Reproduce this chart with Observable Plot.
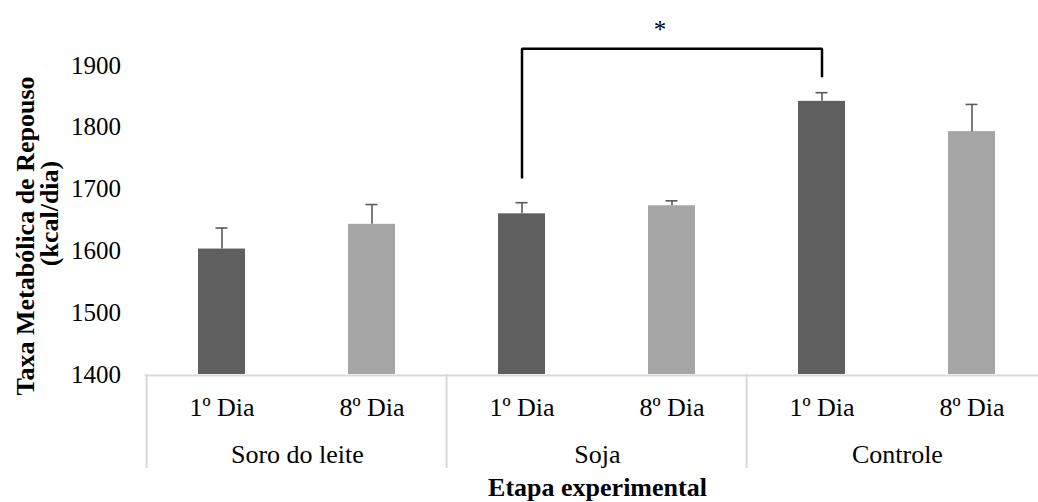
<!DOCTYPE html>
<html>
<head>
<meta charset="utf-8">
<script src="https://cdn.jsdelivr.net/npm/d3@7"></script>
<script src="https://cdn.jsdelivr.net/npm/@observablehq/plot@0.6"></script>
<style>
  html, body { margin: 0; padding: 0; background: #ffffff; }
  #chart svg { display: block; }
</style>
</head>
<body>
<div id="chart"></div>
<script>
// ---- Data ----
const groups = ["Soro do leite", "Soja", "Controle"];
const days = ["1º Dia", "8º Dia"];
const means = [1603, 1643, 1660, 1673, 1842, 1793];   // kcal/dia, order: group × day
const errors = [34, 32, 18, 8, 14, 44];                // upper error bar
const yTicks = [1400, 1500, 1600, 1700, 1800, 1900];
const yTitle = "Taxa Metabólica de Repouso";
const yUnit = "(kcal/dia)";
const xTitle = "Etapa experimental";
// significance bracket: from Soja 1º Dia to Controle 1º Dia
const sigFrom = ["Soja", "1º Dia"];
const sigTo = ["Controle", "1º Dia"];
const sigLevels = [1717, 1927, 1881]; // left leg bottom, bracket top, right leg bottom
const sigLabel = "*";
const sigLabelY = 1957;

// ---- Build table ----
const keyOf = (g, d) => g + " · " + d;
const data = [];
groups.forEach((g, gi) => days.forEach((d, di) => {
  const i = gi * days.length + di;
  data.push({group: g, day: d, key: keyOf(g, d), mean: means[i], err: errors[i]});
}));
const keys = data.map(d => d.key);
const groupFirstKeys = groups.map(g => keyOf(g, days[0]));
const bracket = [
  {key: keyOf(...sigFrom), v: sigLevels[0]},
  {key: keyOf(...sigFrom), v: sigLevels[1]},
  {key: keyOf(...sigTo), v: sigLevels[1]},
  {key: keyOf(...sigTo), v: sigLevels[2]}
];
const midKey = keyOf(sigFrom[0], days[1]);

// ---- Layout / style ----
const W = 1038, H = 502;
const mL = 144.5, mR = -11.5, mT = 65, mB = 128;
const step = (W - mR - mL) / keys.length;
const font = "'Liberation Serif', 'Times New Roman', serif";
const ink = "#000000";
const errColor = "#5a5a5a";
const gridGray = "#d9d9d9";

const chart = Plot.plot({
  width: W,
  height: H,
  marginLeft: mL,
  marginRight: mR,
  marginTop: mT,
  marginBottom: mB,
  style: {fontFamily: font, fontSize: "25px", color: ink, background: "#ffffff"},
  x: {type: "band", domain: keys, range: [mL, W - mR], paddingInner: 0.685, paddingOuter: 0.3425, axis: null},
  y: {domain: [yTicks[0], yTicks[yTicks.length - 1]], axis: null},
  color: {domain: days, range: ["#5f5f5f", "#a5a5a5"]},
  marks: [
    // baseline
    Plot.ruleY([yTicks[0]], {stroke: gridGray, strokeWidth: 2, dy: 1}),
    // category separators below the axis
    Plot.ruleX(groupFirstKeys, {x: d => d, y1: yTicks[0], y2: yTicks[0], insetBottom: -94, dx: -step / 2, stroke: gridGray, strokeWidth: 2}),
    // y axis labels
    Plot.axisY(yTicks, {tickSize: 0, tickPadding: 24, label: null, tickFormat: d => String(d), fontSize: 25, fontFamily: font, fontVariant: "normal", fill: ink}),
    // bars
    Plot.barY(data, {x: "key", y1: yTicks[0], y2: "mean", fill: "day"}),
    // error bars
    Plot.ruleX(data, {x: "key", y1: "mean", y2: d => d.mean + d.err, stroke: errColor, strokeWidth: 1.6}),
    Plot.tickY(data, {x: "key", y: d => d.mean + d.err, insetLeft: 17.5, insetRight: 17.5, stroke: errColor, strokeWidth: 1.6}),
    // significance bracket
    Plot.line(bracket, {x: "key", y: "v", stroke: ink, strokeWidth: 2.5, strokeLinejoin: "miter", strokeLinecap: "butt"}),
    Plot.text([sigLabel], {x: () => midKey, y: () => sigLabelY, text: d => d, dx: -12, fontSize: 25, fontFamily: font, fill: ink}),
    // day tick labels
    Plot.text(data, {x: "key", text: "day", frameAnchor: "bottom", dy: 33.5, lineAnchor: "middle", textAnchor: "middle", fontSize: 26, fontFamily: font, fill: ink}),
    // group labels
    Plot.text(groups, {x: g => keyOf(g, days[0]), text: d => d, dx: step / 2, frameAnchor: "bottom", dy: 80, lineAnchor: "middle", textAnchor: "middle", fontSize: 26, fontFamily: font, fill: ink}),
    // x title
    Plot.text([xTitle], {text: d => d, frameAnchor: "bottom", dy: 113, lineAnchor: "middle", textAnchor: "middle", fontSize: 26, fontFamily: font, fontWeight: "bold", fill: ink}),
    // y title (two lines)
    Plot.text([yTitle], {text: d => d, frameAnchor: "left", rotate: -90, dx: 25 - mL, dy: 16, lineAnchor: "middle", textAnchor: "middle", fontSize: 26, fontFamily: font, fontWeight: "bold", fill: ink}),
    Plot.text([yUnit], {text: d => d, frameAnchor: "left", rotate: -90, dx: 49 - mL, dy: -6.5, lineAnchor: "middle", textAnchor: "middle", fontSize: 26, fontFamily: font, fontWeight: "bold", fill: ink})
  ]
});
document.getElementById("chart").appendChild(chart);
</script>
</body>
</html>
